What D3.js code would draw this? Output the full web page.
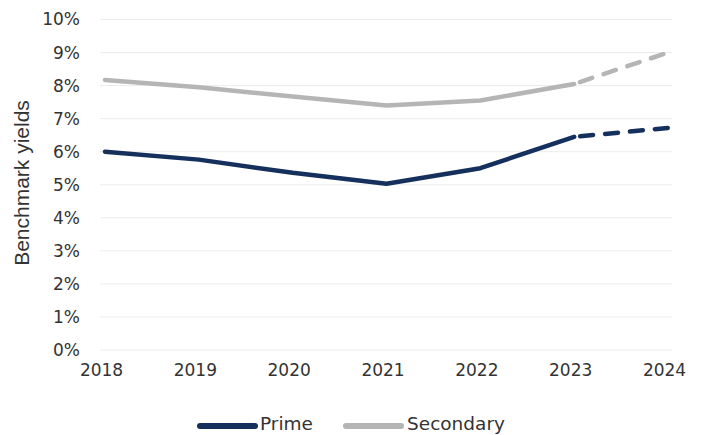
<!DOCTYPE html>
<html>
<head>
<meta charset="utf-8">
<script src="https://cdn.jsdelivr.net/npm/d3@7"></script>
<style>
  html, body { margin: 0; padding: 0; background: #fff; }
  svg { display: block; }
</style>
</head>
<body>
<svg id="chart" width="705" height="435"></svg>
<script>
// Benchmark yields, % — last year is a forecast (drawn dashed)
const years = ["2018", "2019", "2020", "2021", "2022", "2023", "2024"];
const prime = [6.0, 5.76, 5.36, 5.03, 5.5, 6.45, 6.72];
const secondary = [8.17, 7.95, 7.67, 7.4, 7.55, 8.05, 9.0];
const yTicks = [0, 1, 2, 3, 4, 5, 6, 7, 8, 9, 10];
const forecastFrom = "2023";

const series = [
  { name: "Prime", values: prime, color: "#15305c" },
  { name: "Secondary", values: secondary, color: "#b5b5b5" }
];

const svg = d3.select("#chart");
const textColor = "#333";
const tickFont = "'DejaVu Sans', sans-serif";

const x = d3.scalePoint().domain(years).range([105, 668]);
const y = d3.scaleLinear().domain([0, 10]).range([350, 19.5]);

// Horizontal gridlines
svg.append("g")
  .selectAll("line")
  .data(yTicks)
  .join("line")
  .attr("x1", 100).attr("x2", 672)
  .attr("y1", d => y(d)).attr("y2", d => y(d))
  .attr("stroke", "#ececec")
  .attr("stroke-width", 1);

// Y axis labels
const yAxis = svg.append("g")
  .attr("transform", "translate(80,0)")
  .call(d3.axisLeft(y).tickValues(yTicks).tickFormat(d => d + "%").tickSize(0).tickPadding(0));
yAxis.select(".domain").remove();
yAxis.selectAll("text")
  .attr("font-family", tickFont)
  .attr("font-size", 17)
  .attr("fill", textColor);

// X axis labels
const xAxis = svg.append("g")
  .attr("transform", "translate(-4,364)")
  .call(d3.axisBottom(x).tickSize(0).tickPadding(0));
xAxis.select(".domain").remove();
xAxis.selectAll("text")
  .attr("font-family", tickFont)
  .attr("font-size", 17)
  .attr("fill", textColor);

// Y axis title
svg.append("text")
  .attr("transform", "translate(29,183) rotate(-90)")
  .attr("text-anchor", "middle")
  .attr("font-family", "'Liberation Sans', Arial, sans-serif")
  .attr("font-size", 21)
  .attr("fill", textColor)
  .text("Benchmark yields");

// Lines: solid for actuals, dashed for the forecast segment
const line = d3.line()
  .x(d => x(d.year))
  .y(d => y(d.value))
  .curve(d3.curveLinear);

const splitIdx = years.indexOf(forecastFrom);

series.forEach(s => {
  const pts = years.map((yr, i) => ({ year: yr, value: s.values[i] }));
  svg.append("path")
    .attr("d", line(pts.slice(0, splitIdx + 1)))
    .attr("fill", "none")
    .attr("stroke", s.color)
    .attr("stroke-width", 4.5)
    .attr("stroke-linejoin", "round")
    .attr("stroke-linecap", "round");
  svg.append("path")
    .attr("d", line(pts.slice(splitIdx)))
    .attr("fill", "none")
    .attr("stroke", s.color)
    .attr("stroke-width", 4.5)
    .attr("stroke-dasharray", "13,12")
    .attr("stroke-dashoffset", -6)
    .attr("stroke-linecap", "round");
});

// Legend
const legendItems = [
  { s: series[0], x1: 200, x2: 255, tx: 260 },
  { s: series[1], x1: 346, x2: 401, tx: 407 }
];
const legend = svg.append("g");
legendItems.forEach(it => {
  legend.append("line")
    .attr("x1", it.x1).attr("x2", it.x2)
    .attr("y1", 426).attr("y2", 426)
    .attr("stroke", it.s.color)
    .attr("stroke-width", 6)
    .attr("stroke-linecap", "round");
  legend.append("text")
    .attr("x", it.tx).attr("y", 424.5)
    .attr("dominant-baseline", "middle")
    .attr("font-family", tickFont)
    .attr("font-size", 18.5)
    .attr("fill", textColor)
    .text(it.s.name);
});
</script>
</body>
</html>
